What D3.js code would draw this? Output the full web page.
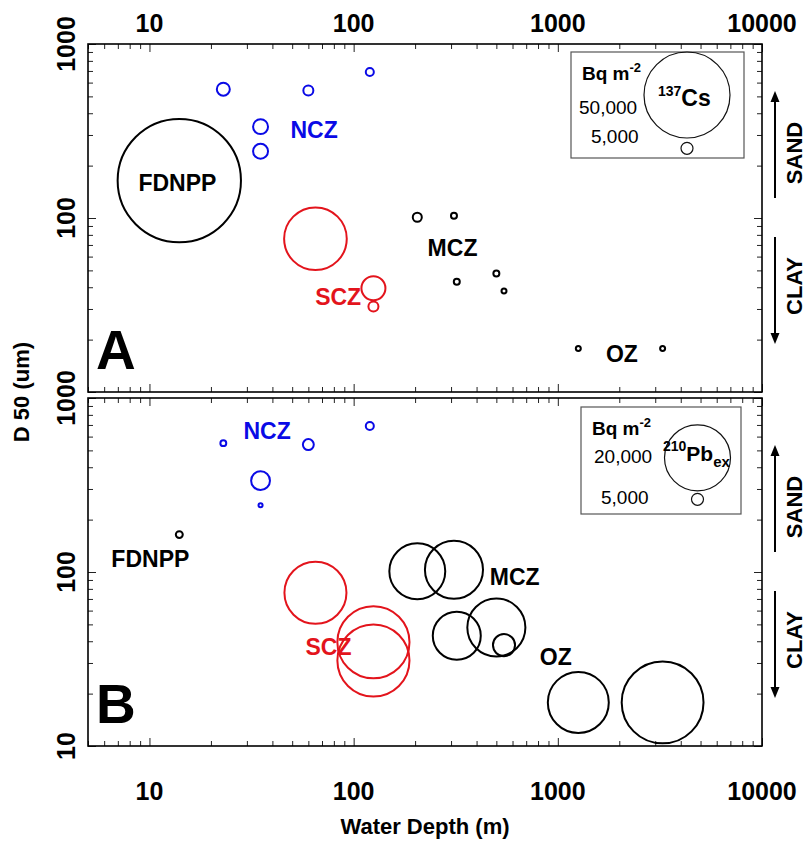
<!DOCTYPE html>
<html>
<head>
<meta charset="utf-8">
<script src="https://cdn.jsdelivr.net/npm/d3@7"></script>
<style>
  body { margin: 0; background: #fff; }
  text { font-family: Arial, "Liberation Sans", sans-serif; }
</style>
</head>
<body>
<svg id="chart"></svg>
<script>
// sites: water depth (m), median grain size D50 (um), zone
const depth = [14, 23, 35, 35, 60, 120, 65, 125, 125, 205, 310, 320, 500, 545, 1260, 3260]
const d50   = [164, 550, 335, 242, 540, 690, 76, 39.5, 31, 101, 103, 43, 48, 38, 17.8, 17.8]
const zone  = ["FDNPP", "NCZ", "NCZ", "NCZ", "NCZ", "NCZ", "SCZ", "SCZ", "SCZ",
               "MCZ", "MCZ", "MCZ", "MCZ", "MCZ", "OZ", "OZ"]

// inventories (Bq m-2)
const cs137 = [72700, 5600, 6800, 6800, 3800, 2600, 35800, 12300, 3800, 3200, 1350, 1350, 1350, 740, 740, 740]
const pb210 = [3600, 3300, 6900, 2800, 4700, 3900, 18900, 21700, 21700, 17200, 17800, 15000, 17800, 7800, 18600, 24400]

// zone labels, placed in data units
const labelsA = { zone: ["NCZ", "FDNPP", "SCZ", "MCZ", "OZ"], depth: [64, 13.7, 84, 305, 2060], d50: [321, 159, 35.2, 67.3, 16.5] }
const labelsB = { zone: ["NCZ", "FDNPP", "SCZ", "MCZ", "OZ"], depth: [37.7, 10.1, 75.3, 615, 977], d50: [646, 119, 37, 93.6, 32.5] }

const xTicks = [10, 100, 1000, 10000]
const yTicks = [10, 100, 1000]

const colour = { FDNPP: "#000", NCZ: "#0a0ae6", SCZ: "#e3141c", MCZ: "#000", OZ: "#000" }

const width = 809
const height = 841

var svg = d3.select("#chart")
            .attr("width", width)
            .attr("height", height)

var x = d3.scaleLog().domain([5, 10000]).range([88, 762])

// minor ticks 2..9 of each decade
var minorX = []
var minorY = []
;[1, 10, 100, 1000].forEach(function(dec) {
  for (var m = 2; m <= 9; m++) {
    if (m * dec >= 5 && m * dec <= 10000) minorX.push(m * dec)
    if (m * dec > 10 && m * dec < 1000) minorY.push(m * dec)
  }
})

var panels = [
  { top: 44, letter: "A", size: cs137, labels: labelsA,
    r: d3.scaleLinear().domain([5000, 50000]).range([6, 43]),
    legend: { x: 571, y: 52, w: 173, h: 106, big: 50000, iso: "137", el: "Cs", sub: "", bigText: "50,000",
              cx: 687, cy: 95, cy2: 148.3 } },
  { top: 398, letter: "B", size: pb210, labels: labelsB,
    r: d3.scaleLinear().domain([5000, 20000]).range([6, 33]),
    legend: { x: 581, y: 407, w: 160, h: 107, big: 20000, iso: "210", el: "Pb", sub: "ex", bigText: "20,000",
              cx: 697.5, cy: 457.8, cy2: 499.3 } }
]

panels.forEach(function(p, pi) {
  var y = d3.scaleLog().domain([10, 1000]).range([p.top + 348, p.top])
  var g = svg.append("g")

  // ticks, all pointing inward
  g.append("g").attr("transform", "translate(0," + p.top + ")")
   .call(d3.axisTop(x).tickValues(xTicks).tickSize(-8).tickFormat(""))
  g.append("g").attr("transform", "translate(0," + p.top + ")")
   .call(d3.axisTop(x).tickValues(minorX).tickSize(-5).tickFormat(""))
  g.append("g").attr("transform", "translate(0," + (p.top + 348) + ")")
   .call(d3.axisBottom(x).tickValues(xTicks).tickSize(-8).tickFormat(""))
  g.append("g").attr("transform", "translate(0," + (p.top + 348) + ")")
   .call(d3.axisBottom(x).tickValues(minorX).tickSize(-5).tickFormat(""))
  g.append("g").attr("transform", "translate(88,0)")
   .call(d3.axisLeft(y).tickValues(yTicks).tickSize(-8).tickFormat(""))
  g.append("g").attr("transform", "translate(88,0)")
   .call(d3.axisLeft(y).tickValues(minorY).tickSize(-5).tickFormat(""))
  g.append("g").attr("transform", "translate(762,0)")
   .call(d3.axisRight(y).tickValues(yTicks).tickSize(-8).tickFormat(""))
  g.append("g").attr("transform", "translate(762,0)")
   .call(d3.axisRight(y).tickValues(minorY).tickSize(-5).tickFormat(""))
  g.selectAll(".domain").remove()
  g.selectAll(".tick line").attr("stroke", "#222").attr("stroke-width", 1)

  g.append("rect")
   .attr("x", 88).attr("y", p.top)
   .attr("width", 674).attr("height", 348)
   .attr("fill", "none").attr("stroke", "#000").attr("stroke-width", 1.6)

  // left tick labels (rotated)
  var yl = pi == 0 ? [100, 1000] : [10, 100, 1000]
  g.selectAll(".ylab").data(yl).enter().append("text")
   .attr("transform", function(d) { return "translate(66," + y(d) + ") rotate(-90)" })
   .attr("text-anchor", "middle").attr("dy", "0.36em")
   .attr("font-size", "25px").attr("font-weight", "bold")
   .text(function(d) { return d })

  // bubbles
  g.selectAll("circle.pt").data(depth).enter().append("circle")
   .attr("class", "pt")
   .attr("cx", function(d) { return x(d) })
   .attr("cy", function(d, i) { return y(d50[i]) })
   .attr("r", function(d, i) { return p.r(p.size[i]) })
   .attr("fill", "none")
   .attr("stroke", function(d, i) { return colour[zone[i]] })
   .attr("stroke-width", 2)

  // zone labels
  g.selectAll(".zlab").data(p.labels.zone).enter().append("text")
   .attr("x", function(d, i) { return x(p.labels.depth[i]) })
   .attr("y", function(d, i) { return y(p.labels.d50[i]) })
   .attr("dy", "0.36em").attr("text-anchor", "middle")
   .attr("font-size", "23px").attr("font-weight", "bold")
   .attr("fill", function(d) { return colour[d] })
   .text(function(d) { return d })

  // panel letter
  g.append("text")
   .attr("x", 96).attr("y", p.top + 325)
   .attr("font-size", "55px").attr("font-weight", "bold")
   .text(p.letter)

  // legend box
  var L = p.legend
  var lg = g.append("g")
  lg.append("rect")
    .attr("x", L.x).attr("y", L.y).attr("width", L.w).attr("height", L.h)
    .attr("fill", "#fff").attr("stroke", "#555").attr("stroke-width", 1.2)
  var t = lg.append("text")
    .attr("x", L.x + 11).attr("y", L.y + 28)
    .attr("font-size", "19px").attr("font-weight", "bold")
    .text("Bq m")
  t.append("tspan").attr("dy", -8).attr("font-size", "13px").text("-2")
  lg.append("text")
    .attr("x", L.x + (pi == 0 ? 8 : 13)).attr("y", L.y + (pi == 0 ? 62 : 56))
    .attr("font-size", "19px")
    .text(L.bigText)
  lg.append("text")
    .attr("x", L.x + (pi == 0 ? 20 : 20)).attr("y", L.y + (pi == 0 ? 91 : 97))
    .attr("font-size", "19px")
    .text("5,000")
  lg.append("circle")
    .attr("cx", L.cx).attr("cy", L.cy).attr("r", p.r(L.big))
    .attr("fill", "none").attr("stroke", "#111").attr("stroke-width", 1.2)
  lg.append("circle")
    .attr("cx", L.cx).attr("cy", L.cy2).attr("r", p.r(5000))
    .attr("fill", "none").attr("stroke", "#111").attr("stroke-width", 1.2)
  var iso = lg.append("text")
    .attr("x", pi == 0 ? 658 : 663).attr("y", pi == 0 ? 106 : 461)
    .attr("font-weight", "bold").attr("font-size", pi == 0 ? "23px" : "21px")
  iso.append("tspan").attr("font-size", "14px").attr("dy", -10).text(L.iso)
  iso.append("tspan").attr("dy", 10).text(L.el)
  if (L.sub) iso.append("tspan").attr("font-size", "15px").attr("dy", 6).text(L.sub)

  // SAND / CLAY arrows
  var off = p.top - 44
  var ag = g.append("g")
  ag.append("line").attr("x1", 775).attr("x2", 775)
    .attr("y1", 100 + off).attr("y2", 198 + off)
    .attr("stroke", "#000").attr("stroke-width", 2)
  ag.append("path")
    .attr("d", "M775," + (91 + off) + " L770.5," + (102 + off) + " L779.5," + (102 + off) + " Z")
  ag.append("line").attr("x1", 775).attr("x2", 775)
    .attr("y1", 237 + off).attr("y2", 334 + off)
    .attr("stroke", "#000").attr("stroke-width", 2)
  ag.append("path")
    .attr("d", "M775," + (344 + off) + " L770.5," + (333 + off) + " L779.5," + (333 + off) + " Z")
  ag.append("text")
    .attr("transform", "translate(794," + (153 + off) + ") rotate(-90)")
    .attr("text-anchor", "middle").attr("dy", "0.36em")
    .attr("font-size", "22px").attr("font-weight", "bold")
    .text("SAND")
  ag.append("text")
    .attr("transform", "translate(794," + (286 + off) + ") rotate(-90)")
    .attr("text-anchor", "middle").attr("dy", "0.36em")
    .attr("font-size", "22px").attr("font-weight", "bold")
    .text("CLAY")
})

// top and bottom x tick labels
svg.selectAll(".xtop").data(xTicks).enter().append("text")
   .attr("x", function(d) { return x(d) }).attr("y", 32)
   .attr("text-anchor", "middle")
   .attr("font-size", "25px").attr("font-weight", "bold")
   .text(function(d) { return d })
svg.selectAll(".xbot").data(xTicks).enter().append("text")
   .attr("x", function(d) { return x(d) }).attr("y", 800)
   .attr("text-anchor", "middle")
   .attr("font-size", "25px").attr("font-weight", "bold")
   .text(function(d) { return d })

// axis titles
svg.append("text")
   .attr("x", 425).attr("y", 834)
   .attr("text-anchor", "middle")
   .attr("font-size", "22px").attr("font-weight", "bold")
   .text("Water Depth (m)")
svg.append("text")
   .attr("transform", "translate(21,392) rotate(-90)")
   .attr("text-anchor", "middle").attr("dy", "0.36em")
   .attr("font-size", "22px").attr("font-weight", "bold")
   .text("D 50 (um)")
</script>
</body>
</html>
